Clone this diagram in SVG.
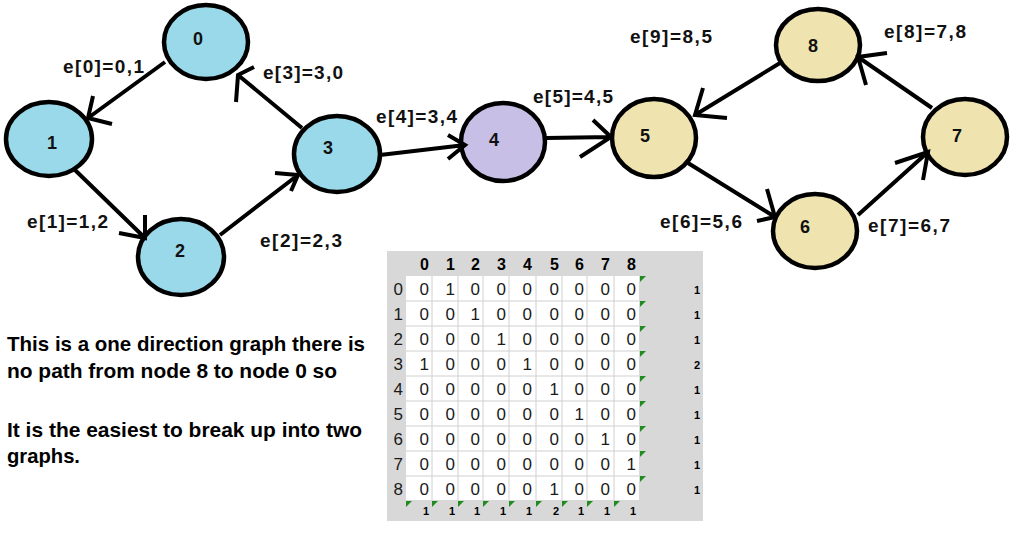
<svg xmlns="http://www.w3.org/2000/svg" width="1012" height="557" viewBox="0 0 1012 557">
<style>
.node{stroke:#000;stroke-width:4.5}
.blue{fill:#99d9ea}.purple{fill:#c8bfe7}.yellow{fill:#efe4b0}
.nl{font-family:"Liberation Sans",Arial,sans-serif;font-weight:bold;font-size:18px;fill:#111;text-anchor:middle}
.el{font-family:"Liberation Sans",Arial,sans-serif;font-weight:bold;font-size:19px;fill:#111}
.edge{fill:none;stroke:#000;stroke-width:4;stroke-linecap:butt;stroke-linejoin:miter}
.para{font-family:"Liberation Sans",Arial,sans-serif;font-weight:bold;font-size:21px;fill:#000}
.cell{font-family:"Liberation Sans",Arial,sans-serif;font-size:17px;fill:#1a1a1a;text-anchor:end}
.hdr{font-family:"Liberation Sans",Arial,sans-serif;font-weight:bold;font-size:16px;fill:#000;text-anchor:end}
.sm{font-family:"Liberation Sans",Arial,sans-serif;font-weight:bold;font-size:11px;fill:#000;text-anchor:end}
.grid{stroke:#d0d0d0;stroke-width:1}
.tri{fill:#1e8c1e}
</style>
<rect width="1012" height="557" fill="#fff"/>

<g id="node0"><ellipse class="node blue" cx="206" cy="42" rx="42" ry="37"/><text class="nl" x="198" y="45">0</text></g>
<g id="node1"><ellipse class="node blue" cx="49" cy="139" rx="43" ry="37"/><text class="nl" x="52" y="149">1</text></g>
<g id="node2"><ellipse class="node blue" cx="181" cy="257" rx="43" ry="38"/><text class="nl" x="180" y="257">2</text></g>
<g id="node3"><ellipse class="node blue" cx="337" cy="154" rx="43" ry="38"/><text class="nl" x="328" y="154">3</text></g>
<g id="node4"><ellipse class="node purple" cx="503" cy="142" rx="42" ry="39"/><text class="nl" x="494" y="146">4</text></g>
<g id="node5"><ellipse class="node yellow" cx="654" cy="138" rx="42" ry="39"/><text class="nl" x="645" y="142">5</text></g>
<g id="node6"><ellipse class="node yellow" cx="815" cy="231" rx="42" ry="37"/><text class="nl" x="805" y="233">6</text></g>
<g id="node7"><ellipse class="node yellow" cx="965" cy="137" rx="42" ry="38"/><text class="nl" x="957" y="142">7</text></g>
<g id="node8"><ellipse class="node yellow" cx="818" cy="45" rx="42" ry="36"/><text class="nl" x="813" y="52">8</text></g>

<g id="connectors">
<path class="edge" d="M165,62 L88,118 M93,96 L88,118 L112,124"/>
<path class="edge" d="M75,170 L145,238 M145,215 L145,238 L119,233"/>
<path class="edge" d="M220,235 L298,175 M275,173 L298,175 L291,191"/>
<path class="edge" d="M302,128 L238,75 M254,67 L238,75 L236,102"/>
<path class="edge" d="M380,155 L465,145 M448,135 L465,145 L448,159"/>
<path class="edge" d="M546,138 L611,137 M593,120 L611,137 L580,157"/>
<path class="edge" d="M780,63 L695,115 M703,88 L695,115 L727,118"/>
<path class="edge" d="M688,163 L775,217 M767,189 L775,217 L757,221"/>
<path class="edge" d="M858,215 L928,152 M895,163 L928,152 L923,180"/>
<path class="edge" d="M932,108 L858,57 M887,53 L858,57 L866,85"/>
</g>

<g id="edge-labels">
<text class="el" x="63" y="73" textLength="81" lengthAdjust="spacing">e[0]=0,1</text>
<text class="el" x="27" y="228" textLength="81" lengthAdjust="spacing">e[1]=1,2</text>
<text class="el" x="260" y="247" textLength="82" lengthAdjust="spacing">e[2]=2,3</text>
<text class="el" x="263" y="79" textLength="80" lengthAdjust="spacing">e[3]=3,0</text>
<text class="el" x="376" y="123" textLength="81" lengthAdjust="spacing">e[4]=3,4</text>
<text class="el" x="533" y="103" textLength="80" lengthAdjust="spacing">e[5]=4,5</text>
<text class="el" x="630" y="43" textLength="82" lengthAdjust="spacing">e[9]=8,5</text>
<text class="el" x="884" y="38" textLength="82" lengthAdjust="spacing">e[8]=7,8</text>
<text class="el" x="660" y="228" textLength="82" lengthAdjust="spacing">e[6]=5,6</text>
<text class="el" x="868" y="232" textLength="82" lengthAdjust="spacing">e[7]=6,7</text>
</g>

<g id="note">
<text class="para" x="7" y="351" textLength="358" lengthAdjust="spacingAndGlyphs">This is a one direction graph there is</text>
<text class="para" x="7" y="378" textLength="330" lengthAdjust="spacingAndGlyphs">no path from node 8 to node 0 so</text>
<text class="para" x="7" y="437" textLength="355" lengthAdjust="spacingAndGlyphs">It is the easiest to break up into two</text>
<text class="para" x="7" y="463" textLength="73" lengthAdjust="spacingAndGlyphs">graphs.</text>
</g>

<g id="matrix">
<rect x="387" y="251" width="316" height="270" fill="#d8d8d8"/>
<rect x="406" y="276" width="233" height="224" fill="#fff"/>
<g class="grid">
<line x1="432" y1="276" x2="432" y2="500"/><line x1="458" y1="276" x2="458" y2="500"/>
<line x1="483" y1="276" x2="483" y2="500"/><line x1="509" y1="276" x2="509" y2="500"/>
<line x1="536" y1="276" x2="536" y2="500"/><line x1="562" y1="276" x2="562" y2="500"/>
<line x1="587" y1="276" x2="587" y2="500"/><line x1="614" y1="276" x2="614" y2="500"/>
<line x1="406" y1="301" x2="639" y2="301"/><line x1="406" y1="326" x2="639" y2="326"/>
<line x1="406" y1="351" x2="639" y2="351"/><line x1="406" y1="376" x2="639" y2="376"/>
<line x1="406" y1="401" x2="639" y2="401"/><line x1="406" y1="426" x2="639" y2="426"/>
<line x1="406" y1="451" x2="639" y2="451"/><line x1="406" y1="476" x2="639" y2="476"/>
</g>
<g class="hdr">
<text x="429" y="270">0</text><text x="455" y="270">1</text><text x="480" y="270">2</text><text x="506" y="270">3</text><text x="532" y="270">4</text><text x="559" y="270">5</text><text x="584" y="270">6</text><text x="610" y="270">7</text><text x="636" y="270">8</text>
</g>
<g class="cell">
<text x="403" y="295">0</text><text x="403" y="320">1</text><text x="403" y="345">2</text><text x="403" y="370">3</text><text x="403" y="395">4</text><text x="403" y="420">5</text><text x="403" y="445">6</text><text x="403" y="470">7</text><text x="403" y="495">8</text>
<text x="429" y="295">0</text><text x="455" y="295">1</text><text x="480" y="295">0</text><text x="506" y="295">0</text><text x="532" y="295">0</text><text x="559" y="295">0</text><text x="584" y="295">0</text><text x="610" y="295">0</text><text x="636" y="295">0</text>
<text x="429" y="320">0</text><text x="455" y="320">0</text><text x="480" y="320">1</text><text x="506" y="320">0</text><text x="532" y="320">0</text><text x="559" y="320">0</text><text x="584" y="320">0</text><text x="610" y="320">0</text><text x="636" y="320">0</text>
<text x="429" y="345">0</text><text x="455" y="345">0</text><text x="480" y="345">0</text><text x="506" y="345">1</text><text x="532" y="345">0</text><text x="559" y="345">0</text><text x="584" y="345">0</text><text x="610" y="345">0</text><text x="636" y="345">0</text>
<text x="429" y="370">1</text><text x="455" y="370">0</text><text x="480" y="370">0</text><text x="506" y="370">0</text><text x="532" y="370">1</text><text x="559" y="370">0</text><text x="584" y="370">0</text><text x="610" y="370">0</text><text x="636" y="370">0</text>
<text x="429" y="395">0</text><text x="455" y="395">0</text><text x="480" y="395">0</text><text x="506" y="395">0</text><text x="532" y="395">0</text><text x="559" y="395">1</text><text x="584" y="395">0</text><text x="610" y="395">0</text><text x="636" y="395">0</text>
<text x="429" y="420">0</text><text x="455" y="420">0</text><text x="480" y="420">0</text><text x="506" y="420">0</text><text x="532" y="420">0</text><text x="559" y="420">0</text><text x="584" y="420">1</text><text x="610" y="420">0</text><text x="636" y="420">0</text>
<text x="429" y="445">0</text><text x="455" y="445">0</text><text x="480" y="445">0</text><text x="506" y="445">0</text><text x="532" y="445">0</text><text x="559" y="445">0</text><text x="584" y="445">0</text><text x="610" y="445">1</text><text x="636" y="445">0</text>
<text x="429" y="470">0</text><text x="455" y="470">0</text><text x="480" y="470">0</text><text x="506" y="470">0</text><text x="532" y="470">0</text><text x="559" y="470">0</text><text x="584" y="470">0</text><text x="610" y="470">0</text><text x="636" y="470">1</text>
<text x="429" y="495">0</text><text x="455" y="495">0</text><text x="480" y="495">0</text><text x="506" y="495">0</text><text x="532" y="495">0</text><text x="559" y="495">1</text><text x="584" y="495">0</text><text x="610" y="495">0</text><text x="636" y="495">0</text>
</g>
<g class="tri">
<path d="M640,276h6l-6,6z"/><path d="M640,301h6l-6,6z"/><path d="M640,326h6l-6,6z"/><path d="M640,351h6l-6,6z"/><path d="M640,376h6l-6,6z"/><path d="M640,401h6l-6,6z"/><path d="M640,426h6l-6,6z"/><path d="M640,451h6l-6,6z"/><path d="M640,476h6l-6,6z"/>
<path d="M406,501h6l-6,6z"/><path d="M432,501h6l-6,6z"/><path d="M458,501h6l-6,6z"/><path d="M483,501h6l-6,6z"/><path d="M509,501h6l-6,6z"/><path d="M536,501h6l-6,6z"/><path d="M562,501h6l-6,6z"/><path d="M587,501h6l-6,6z"/><path d="M614,501h6l-6,6z"/>
</g>
<g class="sm">
<text x="700" y="294">1</text><text x="700" y="319">1</text><text x="700" y="344">1</text><text x="700" y="369">2</text><text x="700" y="394">1</text><text x="700" y="419">1</text><text x="700" y="444">1</text><text x="700" y="469">1</text><text x="700" y="494">1</text>
<text x="429" y="515">1</text><text x="455" y="515">1</text><text x="480" y="515">1</text><text x="506" y="515">1</text><text x="532" y="515">1</text><text x="559" y="515">2</text><text x="584" y="515">1</text><text x="610" y="515">1</text><text x="636" y="515">1</text>
</g>
</g>
</svg>
